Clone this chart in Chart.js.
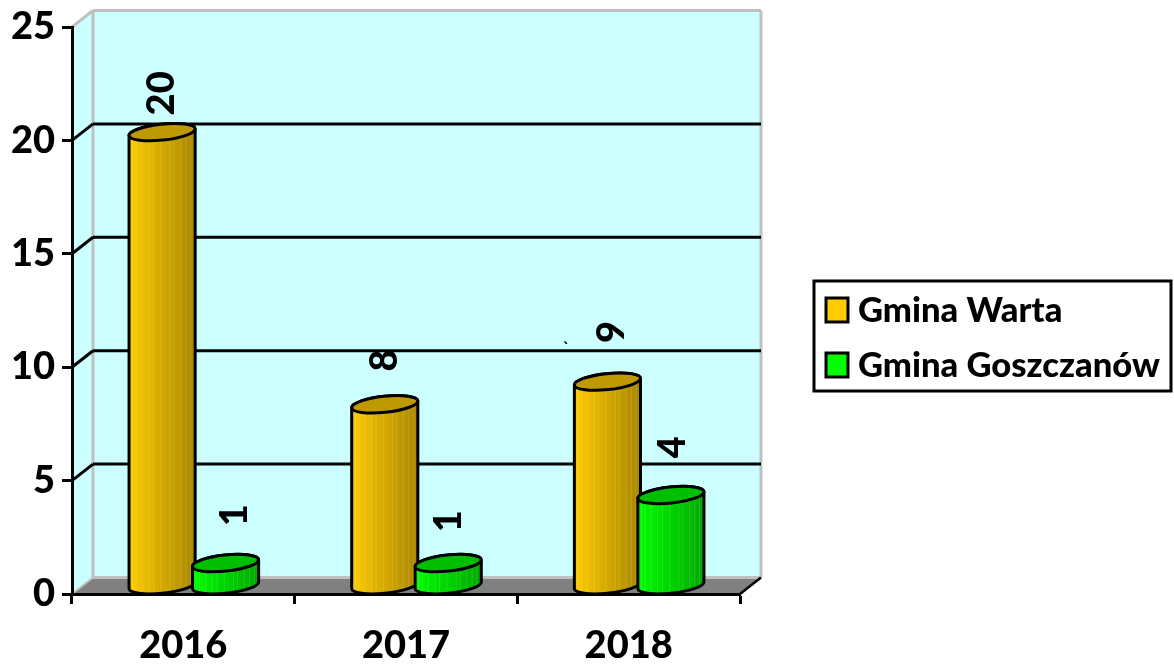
<!DOCTYPE html>
<html>
<head>
<meta charset="utf-8">
<script src="https://cdn.jsdelivr.net/npm/chart.js@4"></script>
<style>
  html, body { margin: 0; background: #fff; }
  canvas { display: block; }
</style>
</head>
<body>
<canvas id="wykres" width="1174" height="664"></canvas>
<script>
const years = ['2016', '2017', '2018']
const warta = [20, 8, 9]
const goszczanow = [1, 1, 4]
const yTicks = [0, 5, 10, 15, 20, 25]

const seriesNames = ['Gmina Warta', 'Gmina Goszczanów']
const seriesColors = ['#ffcc00', '#00ff00']
const seriesDark = ['#a88600', '#00a800']
const seriesTops = ['#bf9900', '#00bf00']

// how far each value label sits above its bar, and sideways
const labelLift = [[25, 41, 47], [45, 39, 45]]
const labelNudge = [[-2, -2, 2], [7, -1, 0]]

const fontName = 'Lato'
const depthX = 21
const depthY = 16.5
const stripes = [0.06, 0.11, 0.2, 0.3, 0.37, 0.48, 0.62, 0.68, 0.78, 0.86, 0.93]

function line(ctx, x1, y1, x2, y2, color, width) {
  ctx.strokeStyle = color
  ctx.lineWidth = width
  ctx.beginPath()
  ctx.moveTo(x1, y1)
  ctx.lineTo(x2, y2)
  ctx.stroke()
}

function poly(ctx, pts, color) {
  ctx.fillStyle = color
  ctx.beginPath()
  pts.forEach(p => ctx.lineTo(p[0], p[1]))
  ctx.closePath()
  ctx.fill()
}

function drawCylinder(ctx, bar, i) {
  const cx = bar.x + depthX / 2
  const top = bar.y - depthY / 2
  const base = bar.base - depthY / 2
  const rx = bar.width / 2 + 1.5
  const ry = 8
  const tilt = -6 * Math.PI / 180
  const t0 = Math.atan(-(ry / rx) * Math.tan(tilt))

  const side = new Path2D()
  side.ellipse(cx, base, rx, ry, tilt, t0, t0 + Math.PI)
  side.ellipse(cx, top, rx, ry, tilt, t0 + Math.PI, t0 + 2 * Math.PI)
  side.closePath()

  const grad = ctx.createLinearGradient(cx - rx, 0, cx + rx, 0)
  grad.addColorStop(0, seriesColors[i])
  grad.addColorStop(1, seriesDark[i])
  ctx.fillStyle = grad
  ctx.fill(side)

  ctx.save()
  ctx.clip(side)
  stripes.forEach(s => line(ctx, cx - rx + 2 * rx * s, top - ry, cx - rx + 2 * rx * s, base + ry, 'rgba(255,255,255,0.13)', 1))
  ctx.restore()

  ctx.strokeStyle = '#000'
  ctx.lineWidth = 3
  ctx.stroke(side)
  ctx.beginPath()
  ctx.ellipse(cx, top, rx, ry, tilt, 0, 2 * Math.PI)
  ctx.fillStyle = seriesTops[i]
  ctx.fill()
  ctx.stroke()
}

const walls = {
  id: 'walls',
  beforeDraw(chart) {
    const ctx = chart.ctx
    const y = chart.scales.y
    const a = chart.chartArea
    const back = v => y.getPixelForValue(v) - depthY
    const left = a.left + depthX
    const right = a.right + depthX
    ctx.save()
    poly(ctx, [[a.left, a.top], [left, a.top - depthY], [right, a.top - depthY], [right, back(0)], [left, back(0)], [a.left, a.bottom]], '#ccffff')
    poly(ctx, [[a.left, a.bottom], [left, back(0)], [right, back(0)], [a.right, a.bottom]], '#808080')
    line(ctx, left, a.top - depthY, right, a.top - depthY, '#c0c0c0', 3)
    line(ctx, a.left, a.top, left, a.top - depthY, '#c0c0c0', 3)
    line(ctx, left, a.top - depthY, left, back(0), '#c0c0c0', 3)
    line(ctx, right, a.top - depthY, right, back(0), '#c0c0c0', 3)
    line(ctx, left, back(0), right, back(0), '#c0c0c0', 3)
    line(ctx, a.left, a.bottom, left, back(0), '#c0c0c0', 2)
    line(ctx, a.right, a.bottom, right, back(0), '#000', 2.5)
    yTicks.slice(1, -1).forEach(v => {
      line(ctx, a.left, y.getPixelForValue(v), left, back(v), '#000', 3)
      line(ctx, left, back(v), right, back(v), '#000', 3)
    })
    ctx.restore()
  }
}

const cylinders = {
  id: 'cylinders',
  beforeDatasetDraw() {
    return false
  },
  afterDatasetsDraw(chart) {
    const ctx = chart.ctx
    ctx.save()
    chart.data.datasets.forEach((ds, i) => {
      chart.getDatasetMeta(i).data.forEach(bar => drawCylinder(ctx, bar, i))
    })
    ctx.fillStyle = '#000'
    ctx.font = '900 38px ' + fontName
    ctx.textAlign = 'left'
    ctx.textBaseline = 'middle'
    chart.data.datasets.forEach((ds, i) => {
      chart.getDatasetMeta(i).data.forEach((bar, j) => {
        ctx.save()
        ctx.translate(bar.x + depthX / 2 + labelNudge[i][j], bar.y - labelLift[i][j])
        ctx.rotate(-Math.PI / 2)
        ctx.fillText(ds.data[j], 0, 2)
        ctx.restore()
      })
    })
    // stray mark left of the 2018 label in the original
    ctx.font = 'bold 16px ' + fontName
    ctx.fillText('`', 563, 348)
    ctx.restore()
  }
}

const boxLegend = {
  id: 'boxLegend',
  afterDraw(chart) {
    const ctx = chart.ctx
    ctx.save()
    ctx.strokeStyle = '#000'
    ctx.lineWidth = 3
    ctx.strokeRect(814, 281, 357, 110)
    ctx.font = '900 34.6px ' + fontName
    ctx.textAlign = 'left'
    ctx.textBaseline = 'middle'
    seriesNames.forEach((name, i) => {
      const rowY = 310 + i * 55
      ctx.fillStyle = seriesColors[i]
      ctx.fillRect(826, rowY - 12, 22, 24)
      ctx.strokeRect(826, rowY - 12, 22, 24)
      ctx.fillStyle = '#000'
      ctx.fillText(name, 858, rowY + 1)
    })
    ctx.restore()
  }
}

new Chart(document.getElementById('wykres'), {
  type: 'bar',
  data: {
    labels: years,
    datasets: [
      { label: seriesNames[0], data: warta, backgroundColor: seriesColors[0] },
      { label: seriesNames[1], data: goszczanow, backgroundColor: seriesColors[1] }
    ]
  },
  options: {
    responsive: false,
    animation: false,
    events: [],
    categoryPercentage: 0.57,
    barPercentage: 1,
    layout: { padding: { top: 27, right: 434, left: 0, bottom: 0 } },
    plugins: { legend: { display: false }, tooltip: { enabled: false } },
    scales: {
      x: {
        afterFit(s) {
          s.height = 70
          s.paddingLeft = 0
          s.paddingRight = 0
        },
        border: { color: '#000', width: 3 },
        grid: { drawOnChartArea: false, tickColor: '#000', tickLength: 10, tickWidth: 3 },
        ticks: { color: '#000', padding: 19, maxRotation: 0, font: { family: fontName, weight: '900', size: 38 } }
      },
      y: {
        min: 0,
        max: 25,
        afterFit(s) {
          s.width = 72
          s.paddingTop = 0
          s.paddingBottom = 0
        },
        afterBuildTicks(s) { s.ticks = yTicks.map(v => ({ value: v })) },
        border: { color: '#000', width: 3 },
        grid: { drawOnChartArea: false, tickColor: '#000', tickLength: 10, tickWidth: 3 },
        ticks: { color: '#000', padding: 7, font: { family: fontName, weight: '900', size: 38 } }
      }
    }
  },
  plugins: [walls, cylinders, boxLegend]
})
</script>
</body>
</html>
